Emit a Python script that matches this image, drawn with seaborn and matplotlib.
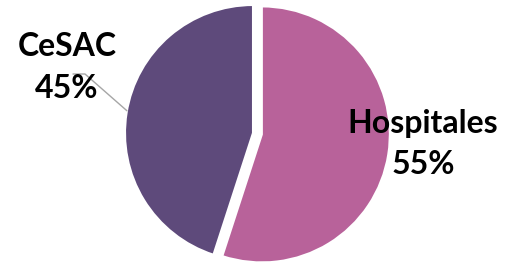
import numpy as np
import matplotlib
matplotlib.use("Agg")
import matplotlib.pyplot as plt
import seaborn as sns

# Data
categories = ["Hospitales", "CeSAC"]
values = [55, 45]
colors = ["#B8629A", "#5E4A7B"]

sns.set_style("white")
plt.rcParams["font.family"] = ["Lato", "DejaVu Sans"]

W, H = 512, 264
R = 128  # pie radius in pixels
cx, cy = 253, 133  # pie centre in pixels (from top-left)

fig = plt.figure(figsize=(W / 100, H / 100), dpi=100)
ax = fig.add_axes([0, 0, 1, 1])

wedges, _ = ax.pie(values, colors=sns.color_palette(colors), startangle=90,
                   counterclock=False, explode=[0.07, 0], radius=1,
                   wedgeprops=dict(edgecolor="white", linewidth=1.5))

ax.set_xlim(-cx / R, (W - cx) / R)
ax.set_ylim(-(H - cy) / R, cy / R)
ax.set_aspect("equal")
ax.axis("off")


def px(x, y):
    return (x - cx) / R, (cy - y) / R


# Labels
lab = dict(ha="center", va="center", fontsize=23, fontweight="bold", color="black")
ax.text(*px(67, 47), "CeSAC", **lab)
ax.text(*px(67, 89), "45%", **lab)
ax.text(*px(423, 123), "Hospitales", **lab)
ax.text(*px(423, 165), "55%", **lab)

# Leader line for CeSAC
ang = np.deg2rad(170)
tip = (np.cos(ang), np.sin(ang))
ax.plot([px(73, 74)[0], px(85, 74)[0], tip[0]], [px(73, 74)[1], px(85, 74)[1], tip[1]],
        color="#A6A6A6", linewidth=1)

fig.savefig("out.png", dpi=100)
